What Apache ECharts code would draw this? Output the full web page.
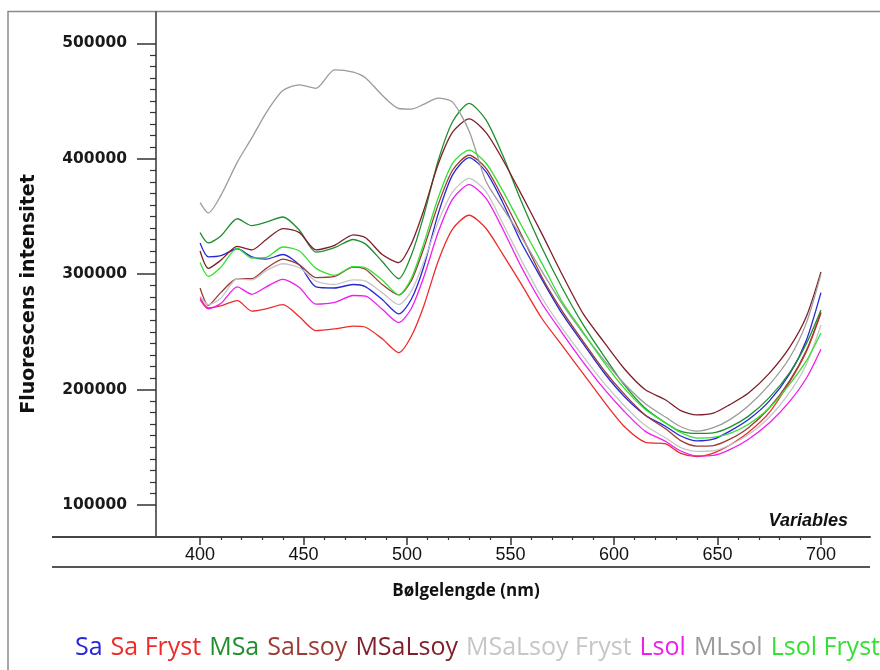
<!DOCTYPE html>
<html>
<head>
<meta charset="utf-8">
<title>Fluorescens</title>
<script src="https://cdn.jsdelivr.net/npm/echarts@6/dist/echarts.min.js"></script>
<style>
  html, body { margin: 0; padding: 0; background: #fff; }
  #chart { width: 880px; height: 670px; }
</style>
</head>
<body>
<div id="chart"></div>
<script>
// wavelengths (nm) where the curves were read
const wavelengths = [400, 404, 410, 418, 425, 432, 440, 448, 456, 465, 474, 480, 488, 496, 502, 508, 515, 522, 530, 538,
  546, 555, 565, 575, 585, 595, 605, 615, 625, 632, 640, 648, 656, 665, 675, 685, 693, 700];

const sa = [327000, 315000, 316000, 322000, 315000, 313000, 317000, 308000, 289000, 288000, 291000, 289000, 278000, 265500, 278000, 306000, 352000, 386000, 401000, 389000,
  363000, 328000, 296000, 265500, 240000, 215000, 194000, 178000, 168000, 160000, 155500, 157000, 164000, 174000, 190000, 214000, 243000, 284000];
const saFryst = [279500, 270800, 272500, 277000, 268000, 270000, 273500, 263000, 251000, 252500, 255000, 254000, 244000, 232000, 246000, 272000, 311000, 339000, 351000, 340000,
  318000, 292000, 262000, 238000, 214000, 190000, 168000, 154500, 153000, 145000, 142000, 145000, 152000, 163000, 180000, 207000, 233000, 266000];
const msa = [336000, 327000, 333000, 348000, 342000, 345000, 349500, 338000, 319000, 323000, 330000, 326000, 311000, 296000, 316000, 350000, 398000, 432000, 448000, 434000,
  404000, 364000, 323500, 288000, 256500, 229500, 204000, 184000, 171000, 164000, 162000, 162500, 167500, 177000, 193000, 215000, 240000, 269000];
const saLsoy = [288000, 273000, 284000, 296000, 296000, 305000, 313000, 308000, 297000, 298000, 306000, 304000, 291000, 282000, 294000, 322000, 360000, 390000, 403000, 392000,
  367000, 335000, 298000, 268000, 242000, 217000, 196000, 178000, 166000, 156000, 151000, 151500, 157000, 167000, 184000, 208000, 234000, 267000];
const msaLsoy = [320000, 305000, 312000, 324000, 321000, 330000, 339500, 336000, 321000, 325000, 334000, 331500, 317000, 310000, 326000, 355000, 395000, 423000, 434500, 423000,
  400000, 370000, 335500, 299500, 266000, 241500, 218000, 200000, 191000, 182000, 178000, 179500, 187000, 197000, 214000, 237000, 263500, 302000];
const msaLsoyFryst = [281000, 273600, 279000, 296000, 295000, 303000, 309000, 305500, 294000, 291000, 295000, 294000, 284000, 273600, 285000, 310000, 345000, 371000, 383000, 372000,
  345000, 313000, 280000, 253000, 229000, 206000, 186000, 169000, 158000, 150000, 146500, 147000, 152000, 161000, 176000, 198000, 222000, 256000];
const lsol = [278000, 270000, 274500, 289000, 282500, 289000, 295500, 288500, 274000, 275500, 281500, 281000, 269500, 258000, 270000, 297000, 336000, 365000, 377500, 366000,
  340000, 307000, 275000, 249000, 224000, 201000, 181000, 164000, 155000, 147000, 142500, 143000, 148000, 157000, 171000, 190000, 210000, 235000];
const mlsol = [362000, 353000, 368000, 397000, 418000, 440000, 459000, 464000, 461000, 477000, 475000, 470000, 455000, 443500, 443000, 447000, 452500, 449000, 424000, 381000,
  358000, 333000, 303000, 274000, 249000, 226000, 205000, 188000, 176000, 168000, 164000, 167000, 174000, 186000, 204000, 228000, 258000, 300000];
const lsolFryst = [310000, 298000, 306000, 322500, 314000, 314500, 323500, 320000, 305000, 299000, 306500, 305500, 295000, 282000, 296000, 326000, 366000, 396000, 407500, 396500,
  373000, 343000, 310000, 276000, 250000, 224000, 201000, 183000, 171000, 163000, 158000, 158500, 162000, 170000, 184000, 205000, 225000, 249000];

const names = ['Sa', 'Sa Fryst', 'MSa', 'SaLsoy', 'MSaLsoy', 'MSaLsoy Fryst', 'Lsol', 'MLsol', 'Lsol Fryst'];
const values = [sa, saFryst, msa, saLsoy, msaLsoy, msaLsoyFryst, lsol, mlsol, lsolFryst];
const colors = ['#2727d8', '#ee2b2b', '#1f8f30', '#9a3c36', '#7e1f2a', '#c6c6c6', '#ee1fee', '#9b9b9b', '#33e033'];

const xTicks = [400, 450, 500, 550, 600, 650, 700];
const xMinorTicks = [410, 420, 430, 440, 460, 470, 480, 490, 510, 520, 530, 540, 560, 570, 580, 590, 610, 620, 630, 640, 660, 670, 680, 690];
const yTicks = [100000, 200000, 300000, 400000, 500000];
const yMinorTicks = [110000, 120000, 130000, 140000, 150000, 160000, 170000, 180000, 190000,
  210000, 220000, 230000, 240000, 250000, 260000, 270000, 280000, 290000,
  310000, 320000, 330000, 340000, 350000, 360000, 370000, 380000, 390000,
  410000, 420000, 430000, 440000, 450000, 460000, 470000, 480000, 490000];

const xMin = 378.7, xMax = 723.7;
const yMin = 72270, yMax = 527100;

const chart = echarts.init(document.getElementById('chart'));

let series = names.map((name, i) => ({
  name: name,
  type: 'line',
  xAxisIndex: 0,
  yAxisIndex: 0,
  data: wavelengths.map((w, j) => [w, values[i][j]]),
  showSymbol: false,
  smooth: 0.25,
  color: colors[i],
  lineStyle: { width: 1.3, color: colors[i] },
  emphasis: { disabled: true }
}));

let option = {
  animation: false,
  backgroundColor: '#fff',
  grid: { left: 156, right: 10, top: 12, bottom: 133 },
  xAxis: [
    {
      type: 'value', min: xMin, max: xMax, position: 'bottom',
      axisLine: { show: true, lineStyle: { color: '#444', width: 2 } },
      axisTick: { show: true, length: 8, customValues: xTicks, lineStyle: { color: '#333', width: 1.5 } },
      axisLabel: {
        customValues: xTicks, margin: 9, color: '#111',
        fontFamily: "'Liberation Sans', Arial, sans-serif", fontSize: 18
      },
      splitLine: { show: false }
    },
    {
      type: 'value', min: xMin, max: xMax, position: 'bottom',
      axisLine: { show: false },
      axisTick: { show: true, length: 3, customValues: xMinorTicks, lineStyle: { color: '#333', width: 1.2 } },
      axisLabel: { show: false },
      splitLine: { show: false }
    }
  ],
  yAxis: [
    {
      type: 'value', min: yMin, max: yMax, position: 'left',
      axisLine: { show: true, lineStyle: { color: '#333', width: 1.5 } },
      axisTick: { show: true, length: 19, customValues: yTicks, lineStyle: { color: '#333', width: 1.5 } },
      axisLabel: {
        customValues: yTicks, margin: 29, color: '#1a1a1a',
        formatter: (v) => String(v),
        fontFamily: "'DejaVu Sans', sans-serif", fontWeight: 'bold', fontSize: 15.5
      },
      splitLine: { show: false }
    },
    {
      type: 'value', min: yMin, max: yMax, position: 'left',
      axisLine: { show: false },
      axisTick: { show: true, length: 6, customValues: yMinorTicks, lineStyle: { color: '#333', width: 1.2 } },
      axisLabel: { show: false },
      splitLine: { show: false }
    }
  ],
  legend: {
    left: 65, top: 630, width: 1000,
    icon: 'rect', itemWidth: 0, itemHeight: 0, itemGap: 3,
    selectedMode: false,
    textStyle: { fontFamily: "'Open Sans', sans-serif", fontSize: 25 },
    data: names.map((n, i) => ({ name: n, textStyle: { color: colors[i] } }))
  },
  graphic: [
    { type: 'rect', shape: { x: 8, y: 11.5, width: 900, height: 700 }, style: { fill: 'none', stroke: '#8a8a8a', lineWidth: 1.5 }, silent: true },
    { type: 'line', shape: { x1: 52, y1: 537, x2: 156, y2: 537 }, style: { stroke: '#444', lineWidth: 2 }, silent: true },
    { type: 'line', shape: { x1: 52, y1: 567, x2: 870, y2: 567 }, style: { stroke: '#555', lineWidth: 2 }, silent: true },
    {
      type: 'text', x: 29, y: 294, rotation: Math.PI / 2, silent: true,
      style: { text: 'Fluorescens intensitet', align: 'center', verticalAlign: 'middle', font: "bold 19px 'DejaVu Sans', sans-serif", fill: '#111' }
    },
    {
      type: 'text', x: 466, y: 591, silent: true,
      style: { text: 'Bølgelengde (nm)', align: 'center', verticalAlign: 'middle', font: "bold 17px 'Open Sans', sans-serif", fill: '#111' }
    },
    {
      type: 'text', x: 848, y: 521, silent: true,
      style: { text: 'Variables', align: 'right', verticalAlign: 'middle', font: "italic bold 18px 'Liberation Sans', Arial, sans-serif", fill: '#111' }
    }
  ],
  series: series
};

chart.setOption(option);
</script>
</body>
</html>
